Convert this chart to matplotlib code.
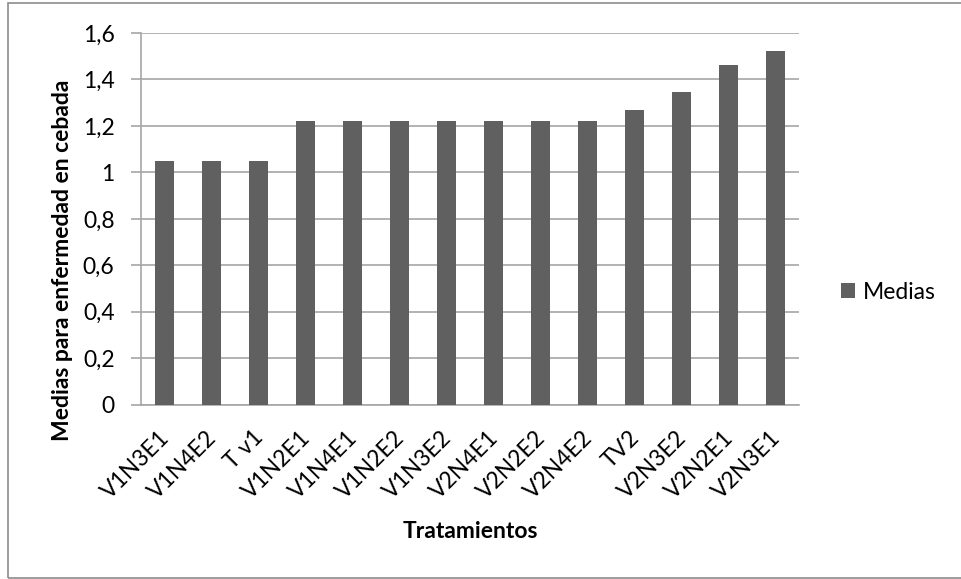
import matplotlib
matplotlib.use("Agg")
import matplotlib.pyplot as plt
from matplotlib.patches import Rectangle
from matplotlib.ticker import FuncFormatter, MultipleLocator
import matplotlib.transforms as mtransforms

tratamientos = ["V1N3E1", "V1N4E2", "T v1", "V1N2E1", "V1N4E1", "V1N2E2", "V1N3E2",
                "V2N4E1", "V2N2E2", "V2N4E2", "TV2", "V2N3E2", "V2N2E1", "V2N3E1"]
medias = [1.05, 1.05, 1.05, 1.22, 1.22, 1.22, 1.22,
          1.22, 1.22, 1.22, 1.267, 1.345, 1.463, 1.524]

plt.rcParams["font.family"] = ["Lato", "DejaVu Sans"]
gris_barra = "#606060"
gris_linea = "#A6A6A6"
tam = 16.5

fig = plt.figure(figsize=(9.61, 5.79), dpi=100)
ax = fig.add_axes([0.1467, 0.301, 0.6847, 0.642])

x = range(len(tratamientos))
ax.bar(x, medias, width=0.4, color=gris_barra, label="Medias", zorder=3)

ax.set_xlim(-0.5, len(tratamientos) - 0.5)
ax.set_ylim(0, 1.6)
ax.yaxis.set_major_locator(MultipleLocator(0.2))
ax.yaxis.set_major_formatter(FuncFormatter(
    lambda v, p: "0" if abs(v) < 1e-9 else ("%g" % round(v, 1)).replace(".", ",")))
ax.grid(axis="y", color=gris_linea, linewidth=1.2, zorder=0)

for lado in ["top", "right"]:
    ax.spines[lado].set_visible(False)
ax.spines["left"].set_color(gris_linea)
ax.spines["bottom"].set_color(gris_linea)
ax.spines["left"].set_linewidth(1.2)
ax.spines["bottom"].set_linewidth(1.2)

ax.tick_params(axis="y", length=7, color=gris_linea, width=1.2, labelsize=tam, pad=12)
ax.tick_params(axis="x", length=0, labelsize=tam, pad=16)
ax.set_xticks(list(x))
ax.set_xticklabels(tratamientos, rotation=45, ha="right", va="top")
desplaza = mtransforms.ScaledTranslation(9 / 100, 0, fig.dpi_scale_trans)
for etiqueta in ax.get_xticklabels():
    etiqueta.set_transform(etiqueta.get_transform() + desplaza)

ax.set_ylabel("Medias para enfermedad en cebada", fontsize=tam, fontweight="bold")
ax.yaxis.set_label_coords(-0.104, 0.389)
ax.set_xlabel("Tratamientos", fontsize=tam, fontweight="bold")
ax.xaxis.set_label_coords(0.5, -0.314)

ax.legend(loc="center left", bbox_to_anchor=(1.064, 0.303), frameon=False, fontsize=tam,
          handlelength=0.6, handleheight=0.6, handletextpad=0.35,
          borderpad=0, borderaxespad=0)

# marco del gráfico
marco = Rectangle((8 / 961, 1 / 579), 1.2, 1 - 4 / 579, transform=fig.transFigure,
                  fill=False, edgecolor="#8C8C8C", linewidth=1.2)
fig.patches.append(marco)

fig.savefig("out.png", dpi=100)
